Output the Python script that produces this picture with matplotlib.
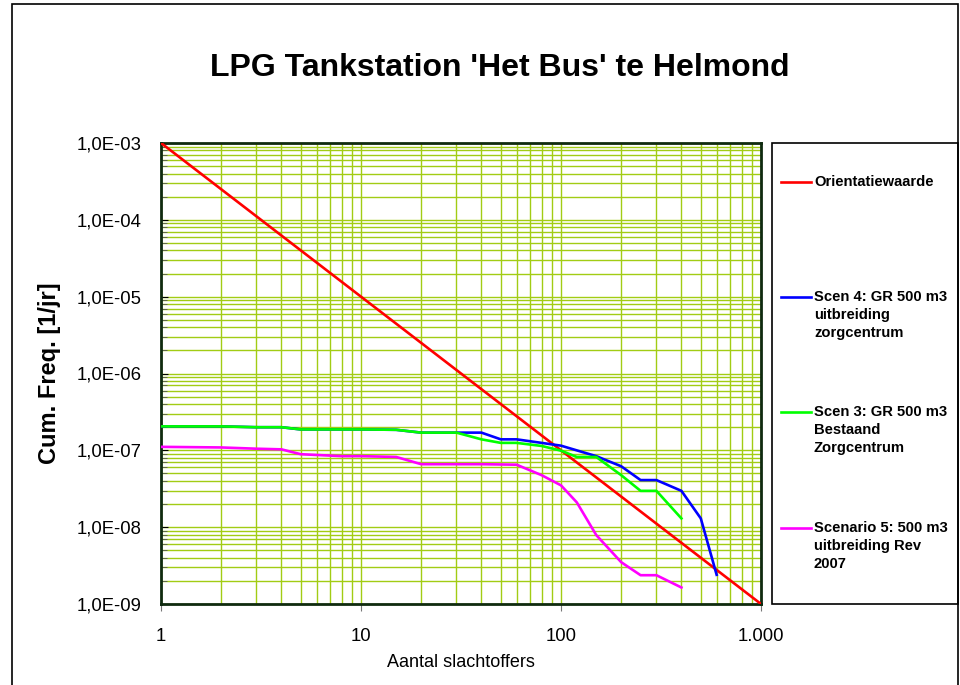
import matplotlib
matplotlib.use("Agg")
import matplotlib.pyplot as plt
from matplotlib.lines import Line2D
from matplotlib.patches import Rectangle
from matplotlib.ticker import FixedLocator, FuncFormatter, LogLocator, NullFormatter

plt.rcParams['font.family'] = ['Liberation Sans', 'DejaVu Sans']

# --- data ---
x_orient = [1, 1000]
y_orient = [1e-3, 1e-9]

x_scen4 = [1, 2, 3, 4, 5, 10, 15, 20, 30, 40, 50, 60, 80, 100, 150, 200, 250, 300, 400, 500, 600]
y_scen4 = [2.05e-7, 2.05e-7, 2.0e-7, 2.0e-7, 1.87e-7, 1.87e-7, 1.85e-7, 1.7e-7, 1.7e-7, 1.7e-7,
           1.39e-7, 1.39e-7, 1.25e-7, 1.15e-7, 8.4e-8, 6.2e-8, 4.1e-8, 4.1e-8, 2.97e-8, 1.3e-8, 2.4e-9]

x_scen3 = [1, 2, 3, 4, 5, 10, 15, 20, 30, 40, 50, 60, 80, 100, 120, 150, 200, 250, 300, 400]
y_scen3 = [2.05e-7, 2.05e-7, 2.0e-7, 2.0e-7, 1.87e-7, 1.87e-7, 1.85e-7, 1.7e-7, 1.7e-7, 1.39e-7,
           1.25e-7, 1.25e-7, 1.14e-7, 9.9e-8, 8.2e-8, 8.2e-8, 4.75e-8, 2.97e-8, 2.97e-8, 1.3e-8]

x_scen5 = [1, 2, 3, 4, 5, 8, 10, 15, 20, 30, 40, 60, 80, 100, 120, 150, 200, 250, 300, 400]
y_scen5 = [1.11e-7, 1.09e-7, 1.05e-7, 1.03e-7, 8.9e-8, 8.4e-8, 8.4e-8, 8.2e-8, 6.6e-8, 6.6e-8,
           6.6e-8, 6.5e-8, 4.75e-8, 3.5e-8, 2.1e-8, 7.9e-9, 3.5e-9, 2.37e-9, 2.37e-9, 1.64e-9]

labels = ["Orientatiewaarde",
          "Scen 4: GR 500 m3\nuitbreiding\nzorgcentrum",
          "Scen 3: GR 500 m3\nBestaand\nZorgcentrum",
          "Scenario 5: 500 m3\nuitbreiding Rev\n2007"]
colors = ['#FF0000', '#0000FF', '#00FF00', '#FF00FF']

W, H = 960, 685
fig = plt.figure(figsize=(9.6, 6.85), dpi=100)

# outer chart frame
fig.patches.append(Rectangle((12 / W, -0.02), 946 / W, 1 - 4 / H + 0.02,
                             transform=fig.transFigure, fill=False, ec='black', lw=1.2))

ax = fig.add_axes([161 / W, (H - 604) / H, 600 / W, 461 / H])
grid_col = '#A2CC14'

series = [(x_orient, y_orient), (x_scen4, y_scen4), (x_scen3, y_scen3), (x_scen5, y_scen5)]
lines = []
for (xs, ys), c in zip(series, colors):
    ln, = ax.plot(xs, ys, color=c, lw=1.9, zorder=3)
    lines.append(ln)

ax.set_xscale('log')
ax.set_yscale('log')
ax.set_xlim(1, 1000)
ax.set_ylim(1e-9, 1e-3)

ax.xaxis.set_major_locator(FixedLocator([1, 10, 100, 1000]))
ax.xaxis.set_minor_locator(LogLocator(base=10, subs=range(2, 10)))
ax.xaxis.set_major_formatter(FuncFormatter(lambda v, p: f"{int(round(v)):,}".replace(',', '.')))
ax.xaxis.set_minor_formatter(NullFormatter())

ax.yaxis.set_major_locator(FixedLocator([10.0 ** e for e in range(-9, -2)]))
ax.yaxis.set_minor_locator(LogLocator(base=10, subs=range(2, 10)))
ax.yaxis.set_major_formatter(FuncFormatter(lambda v, p: "{:.1E}".format(v).replace('.', ',')))
ax.yaxis.set_minor_formatter(NullFormatter())

ax.grid(True, which='both', color=grid_col, lw=1.0, zorder=1)
ax.set_axisbelow(True)

ax.tick_params(axis='x', which='major', direction='out', length=5, color='#777777', labelsize=13.3, pad=12)
ax.tick_params(axis='x', which='minor', length=0)
ax.tick_params(axis='y', which='major', direction='in', length=5, color='black', labelsize=13.3, pad=14)
ax.tick_params(axis='y', which='minor', direction='in', length=4, color='#555555')

for s in ax.spines.values():
    s.set_color('#0F2A0F')
    s.set_linewidth(2)

ax.set_xlabel('Aantal slachtoffers', fontsize=13, labelpad=7)
ax.set_ylabel('Cum. Freq. [1/jr]', fontsize=17, fontweight='bold', labelpad=11)

fig.text(500 / W, 1 - 76 / H, "LPG Tankstation 'Het Bus' te Helmond",
         fontsize=23, fontweight='bold', ha='center', va='baseline')

# legend box drawn to the right of the plot
fig.patches.append(Rectangle((772 / W, (H - 604) / H), 186 / W, 461 / H,
                             transform=fig.transFigure, fill=False, ec='black', lw=1.2))
entry_y = [182, 297, 412, 528]
for ln, lab, yy in zip(lines, labels, entry_y):
    fig.lines.append(Line2D([781 / W, 811 / W], [1 - yy / H, 1 - yy / H],
                            transform=fig.transFigure, color=ln.get_color(), lw=1.9))
    fig.text(814 / W, 1 - (yy - 7) / H, lab, fontsize=10.6, fontweight='bold',
             ha='left', va='top', linespacing=1.35)

fig.savefig('out.png', dpi=100)
